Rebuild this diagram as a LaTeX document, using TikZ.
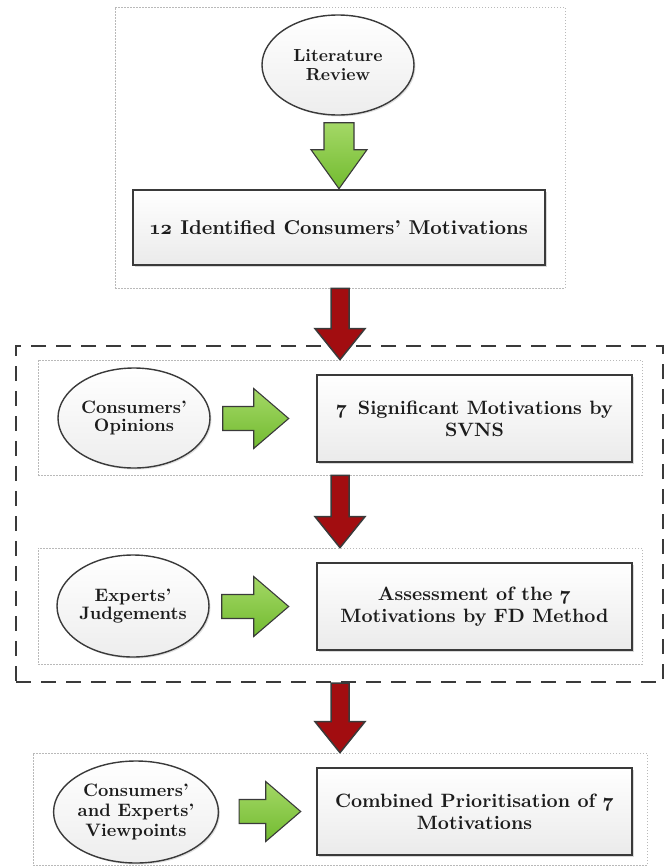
\documentclass[tikz,border=0pt]{standalone}
\usepackage{fontspec}
\setmainfont{lmroman10-regular.otf}[BoldFont=lmroman10-bold.otf, ItalicFont=lmroman10-italic.otf, Numbers=OldStyle]
\usepackage{tikz}
\usetikzlibrary{shapes.geometric,calc,shadows}

\definecolor{darkline}{HTML}{3A3A3A}
\definecolor{arrgreen}{HTML}{72BB30}
\definecolor{arrgreenlt}{HTML}{A4D866}
\definecolor{arrred}{HTML}{A20D10}
\definecolor{textblk}{HTML}{1C1C1C}

\tikzstyle{source} = [ellipse, draw=darkline, line width=1.4pt, top color=white, bottom color=gray!14, minimum width=152pt, minimum height=100pt, inner sep=0pt, align=center, text=textblk, font=\fontsize{18}{18.5}\selectfont\bfseries, drop shadow={shadow xshift=1.5pt,shadow yshift=-1.5pt,opacity=.25}]
\tikzstyle{result} = [rectangle, draw=darkline, line width=2.6pt, top color=white, bottom color=gray!16, minimum width=315pt, minimum height=87pt, align=center, text=textblk, font=\fontsize{19.3}{22}\selectfont\bfseries, drop shadow={shadow xshift=2pt,shadow yshift=-2pt,opacity=.3}]
\tikzstyle{secframe} = [rectangle, draw=gray!55, line width=.7pt, dash pattern=on 1.5pt off 1.5pt]
\tikzstyle{stageframe} = [rectangle, draw=darkline, line width=2.2pt, dash pattern=on 15pt off 10pt]
\tikzstyle{greenarr} = [draw=darkline, line width=1.1pt, top color=arrgreenlt, bottom color=arrgreen]
\tikzstyle{redarr} = [draw=darkline, line width=1.5pt, fill=arrred]

% style, from, to, shaft half width, head half width, head length
\newcommand{\downblock}[6]{%
  \path[#1] let \p1=(#2), \p2=(#3) in
    (\x2-#4pt,\y1) -- (\x2+#4pt,\y1) -- (\x2+#4pt,\y2+#6pt) -- (\x2+#5pt,\y2+#6pt)
    -- (\x2,\y2) -- (\x2-#5pt,\y2+#6pt) -- (\x2-#4pt,\y2+#6pt) -- cycle;}
\newcommand{\rightblock}[6]{%
  \path[#1] let \p1=(#2), \p2=(#3) in
    (\x1,\y2+#4pt) -- (\x2-#6pt,\y2+#4pt) -- (\x2-#6pt,\y2+#5pt) -- (\x2,\y2)
    -- (\x2-#6pt,\y2-#5pt) -- (\x2-#6pt,\y2-#4pt) -- (\x1,\y2-#4pt) -- cycle;}

\begin{document}
\begin{tikzpicture}[x=1pt,y=-1pt]
    \useasboundingbox (0,0) rectangle (669,868);

    \node[secframe, minimum width=450pt, minimum height=281pt] (top) at (340,147.5) {};
    \node[stageframe, minimum width=647pt, minimum height=336pt] (stage) at (339.5,514) {};
    \node[secframe, minimum width=604pt, minimum height=115pt] (sec1) at (340,417.5) {};
    \node[secframe, minimum width=604pt, minimum height=116pt] (sec2) at (340,606) {};
    \node[secframe, minimum width=614pt, minimum height=112pt] (sec3) at (340,809) {};

    \node[source, font=\fontsize{17.5}{18.5}\selectfont\bfseries] (lit) at (338,65) {Literature\\Review};
    \node[result, minimum width=412pt, minimum height=75pt, font=\fontsize{20}{23}\selectfont\bfseries] (ident) at (339,227.5) {12 Identified Consumers' Motivations};

    \node[source] (cons) at (134,418) {Consumers'\\Opinions};
    \node[result] (signif) at (474.5,418.5) {7\hspace{0.55em}Significant Motivations by\\SVNS};

    \node[source, minimum height=102pt] (expert) at (133,606) {Experts'\\Judgements};
    \node[result] (assess) at (474.5,606.5) {Assessment of the 7\\Motivations by FD Method};

    \node[source, minimum height=102pt, font=\fontsize{18}{20}\selectfont\bfseries] (view) at (136,812) {Consumers'\\and Experts'\\Viewpoints};
    \node[result] (combine) at (474.5,811.5) {Combined Prioritisation of 7\\Motivations};

    \downblock{greenarr}{$(lit.south)+(0,7)$}{ident.north}{15}{28}{39}
    \downblock{redarr}{top.south}{sec1.north}{9}{25}{31}
    \downblock{redarr}{sec1.south}{sec2.north}{9}{25}{31}
    \downblock{redarr}{stage.south}{sec3.north}{9}{25}{31}
    \rightblock{greenarr}{$(cons.east)+(12,0)$}{$(signif.west)+(-27,0)$}{12}{30}{35}
    \rightblock{greenarr}{$(expert.east)+(12,0)$}{$(assess.west)+(-27,0)$}{12}{30}{35}
    \rightblock{greenarr}{$(view.east)+(20,0)$}{$(combine.west)+(-15,0)$}{12}{30}{35}
\end{tikzpicture}
\end{document}
